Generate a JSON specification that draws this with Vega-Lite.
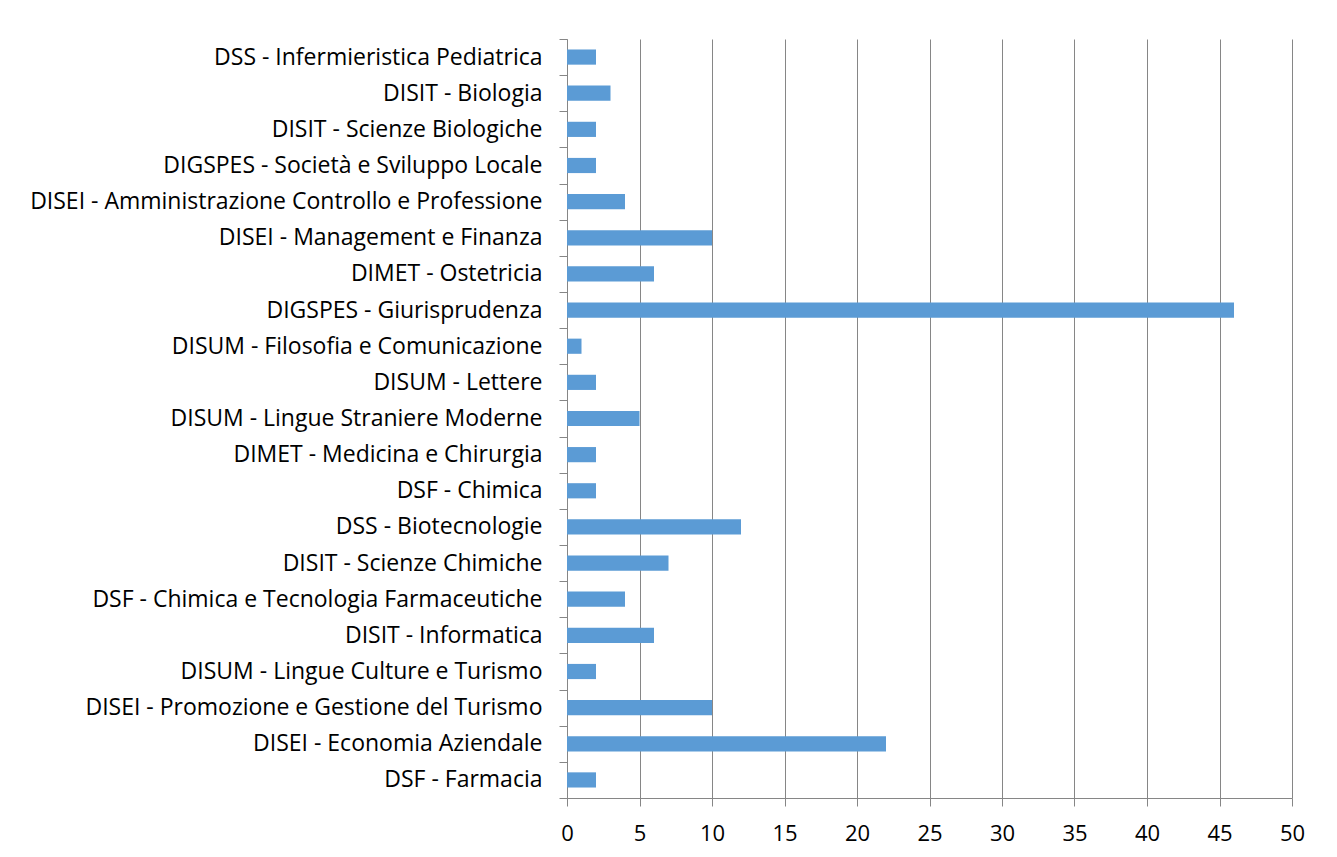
{
  "$schema": "https://vega.github.io/schema/vega-lite/v6.json",
  "width": 725,
  "height": 759,
  "autosize": {"type": "none"},
  "padding": {"left": 567, "top": 39, "right": 45, "bottom": 59},
  "background": "white",
  "config": {
    "view": {"stroke": null},
    "font": "Open Sans"
  },
  "data": {
    "values": [
      {"corso": "DSS - Infermieristica Pediatrica", "valore": 2},
      {"corso": "DISIT - Biologia", "valore": 3},
      {"corso": "DISIT - Scienze Biologiche", "valore": 2},
      {"corso": "DIGSPES - Società e Sviluppo Locale", "valore": 2},
      {"corso": "DISEI - Amministrazione Controllo e Professione", "valore": 4},
      {"corso": "DISEI - Management e Finanza ", "valore": 10},
      {"corso": "DIMET - Ostetricia", "valore": 6},
      {"corso": "DIGSPES - Giurisprudenza", "valore": 46},
      {"corso": "DISUM - Filosofia e Comunicazione", "valore": 1},
      {"corso": "DISUM - Lettere", "valore": 2},
      {"corso": "DISUM - Lingue Straniere Moderne", "valore": 5},
      {"corso": "DIMET - Medicina e Chirurgia", "valore": 2},
      {"corso": "DSF - Chimica  ", "valore": 2},
      {"corso": "DSS -  Biotecnologie", "valore": 12},
      {"corso": "DISIT - Scienze Chimiche", "valore": 7},
      {"corso": "DSF - Chimica e Tecnologia Farmaceutiche", "valore": 4},
      {"corso": "DISIT - Informatica", "valore": 6},
      {"corso": "DISUM - Lingue Culture e Turismo ", "valore": 2},
      {"corso": "DISEI - Promozione e Gestione del Turismo", "valore": 10},
      {"corso": "DISEI - Economia Aziendale", "valore": 22},
      {"corso": "DSF - Farmacia", "valore": 2}
    ]
  },
  "mark": {"type": "bar", "color": "#5B9BD5", "height": {"band": 0.42}},
  "encoding": {
    "y": {
      "field": "corso",
      "type": "nominal",
      "sort": null,
      "title": null,
      "scale": {"paddingInner": 0, "paddingOuter": 0},
      "axis": {
        "tickBand": "extent",
        "tickSize": 8,
        "tickColor": "#868686",
        "domainColor": "#868686",
        "labelPadding": 17,
        "labelFontSize": 23,
        "labelColor": "#000000",
        "labelLimit": 600,
        "grid": false
      }
    },
    "x": {
      "field": "valore",
      "type": "quantitative",
      "title": null,
      "scale": {"domain": [0, 50], "nice": false},
      "axis": {
        "values": [0, 5, 10, 15, 20, 25, 30, 35, 40, 45, 50],
        "tickSize": 8,
        "tickColor": "#868686",
        "domainColor": "#868686",
        "gridColor": "#868686",
        "gridOpacity": 1,
        "labelPadding": 17,
        "labelFontSize": 22,
        "labelColor": "#000000",
        "labelFlush": false
      }
    }
  }
}
